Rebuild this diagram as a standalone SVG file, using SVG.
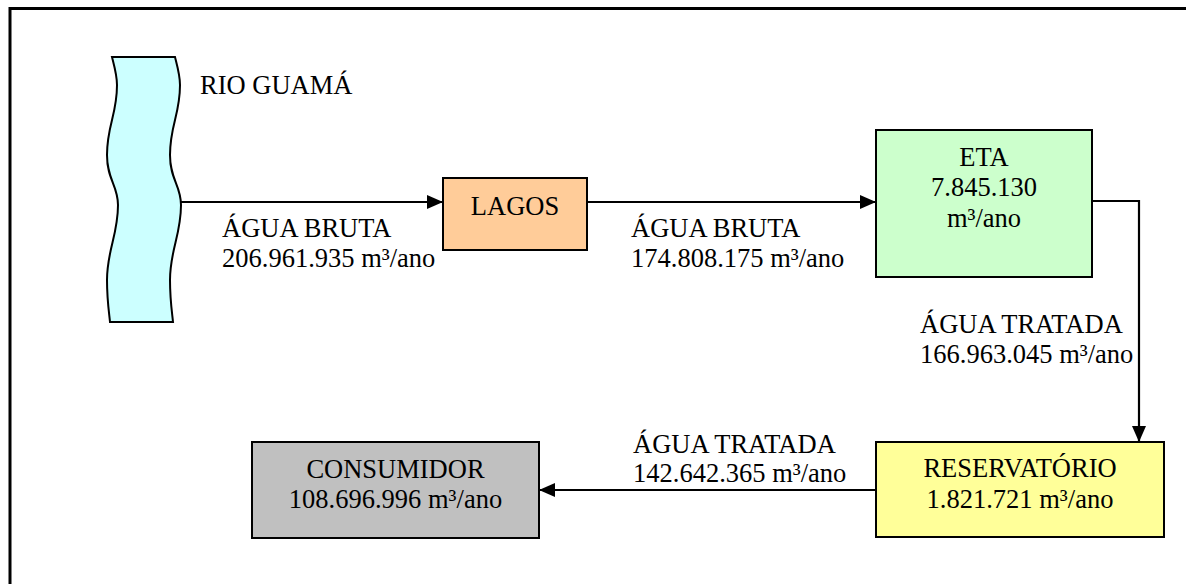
<svg xmlns="http://www.w3.org/2000/svg" width="1186" height="584" viewBox="0 0 1186 584">
  <style>
    text { font-family: "Liberation Serif", "Times New Roman", "DejaVu Serif", serif; font-size: 26.5px; fill: #000; }
    .c { text-anchor: middle; }
    .box { stroke: #000; stroke-width: 2; }
    .link { fill: none; stroke: #000; stroke-width: 2.2; }
  </style>
  <defs>
    <marker id="arrow" markerUnits="userSpaceOnUse" markerWidth="16" markerHeight="14" refX="16" refY="7" orient="auto">
      <path d="M0,0 L16,7 L0,14 Z" fill="#000"/>
    </marker>
  </defs>

  <rect width="1186" height="584" fill="#fff"/>
  <!-- page frame (runs off the right and bottom edges) -->
  <rect x="10" y="8.5" width="1200" height="600" fill="none" stroke="#000" stroke-width="3"/>

  <g id="rio-guama">
    <path class="box" fill="#CCFFFF" d="M112,57 L175,57 C177,65 180,75 180,85 C180,115 170,125 170,155 C170,180 181,185 181,205 C181,235 170,250 170,280 C170,300 172,312 173,322 L110,322 C109,312 107,300 107,280 C107,250 118,235 118,205 C118,185 107,180 107,155 C107,125 117,115 117,85 C117,75 114,65 112,57 Z"/>
    <text x="200" y="94">RIO GUAMÁ</text>
  </g>

  <g id="lagos">
    <rect class="box" x="443" y="178" width="144" height="72" fill="#FFCC99"/>
    <text class="c" x="515" y="215">LAGOS</text>
  </g>

  <g id="eta">
    <rect class="box" x="876" y="130" width="216" height="147" fill="#CCFFCC"/>
    <text class="c" x="984" y="166">ETA</text>
    <text class="c" x="984" y="196">7.845.130</text>
    <text class="c" x="984" y="227">m³/ano</text>
  </g>

  <g id="reservatorio">
    <rect class="box" x="876" y="442" width="288" height="95" fill="#FFFF99"/>
    <text class="c" x="1020" y="477">RESERVATÓRIO</text>
    <text class="c" x="1020" y="508">1.821.721 m³/ano</text>
  </g>

  <g id="consumidor">
    <rect class="box" x="252" y="442" width="287" height="96" fill="#C0C0C0"/>
    <text class="c" x="395.5" y="478">CONSUMIDOR</text>
    <text class="c" x="395.5" y="508">108.696.996 m³/ano</text>
  </g>

  <g id="connectors">
    <path class="link" d="M180,202 H443" marker-end="url(#arrow)"/>
    <path class="link" d="M587,202 H876" marker-end="url(#arrow)"/>
    <path class="link" d="M1092,201 H1139 V442" marker-end="url(#arrow)"/>
    <path class="link" d="M876,490 H539" marker-end="url(#arrow)"/>

    <text x="222" y="237">ÁGUA BRUTA</text>
    <text x="222" y="267">206.961.935 m³/ano</text>
    <text x="631" y="237">ÁGUA BRUTA</text>
    <text x="631" y="267">174.808.175 m³/ano</text>
    <text x="920" y="333">ÁGUA TRATADA</text>
    <text x="920" y="363">166.963.045 m³/ano</text>
    <text x="633" y="453">ÁGUA TRATADA</text>
    <text x="633" y="482">142.642.365 m³/ano</text>
  </g>
</svg>
